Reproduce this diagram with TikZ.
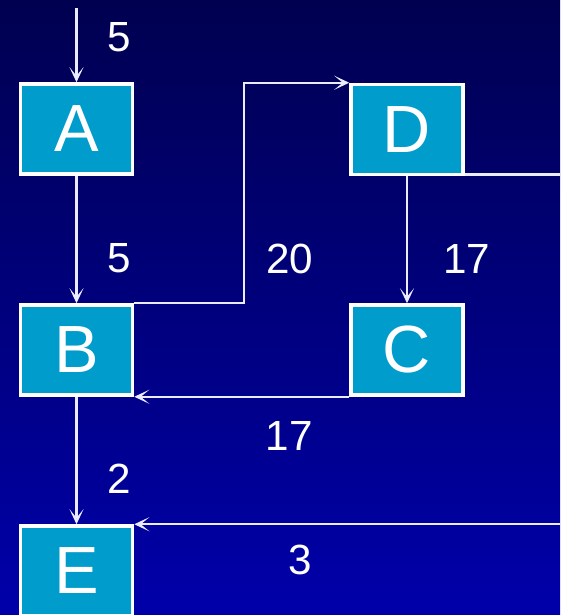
\documentclass[tikz,border=0pt]{standalone}
\usepackage{fontspec}
\setmainfont{Liberation Sans}
\usepackage{xcolor}
\usetikzlibrary{arrows.meta}

\definecolor{bgtop}{RGB}{0,0,80}
\definecolor{bgbot}{RGB}{0,0,170}
\definecolor{boxfill}{RGB}{0,156,204}

\begin{document}
\begin{tikzpicture}[
    vertex/.style={rectangle, draw=white, line width=2pt, fill=boxfill,
                   minimum width=2.24cm, minimum height=1.8cm, inner sep=0pt,
                   text=white, font=\fontsize{38}{40}\selectfont},
    lbl/.style={text=white, inner sep=0pt, font=\fontsize{24}{26}\selectfont},
    arrow/.style={draw=white!92!blue, line width=1.2pt,
                  -{Stealth[length=3mm, width=2.8mm, inset=1.7mm]}},
    plain/.style={draw=white!92!blue, line width=1.2pt}
]
    % background
    \shade[top color=bgtop, bottom color=bgbot] (0,0) rectangle (11.2,-12.3);
    \useasboundingbox (0,0) rectangle (11.2,-12.3);
    \clip (0,0) rectangle (11.2,-12.3);

    \node[vertex] (A) at (1.53, -2.58) {A};
    \node[vertex] (B) at (1.53, -7.00) {B};
    \node[vertex] (D) at (8.14, -2.59) {D};
    \node[vertex] (C) at (8.14, -7.00) {C};
    \node[vertex] (E) at (1.53, -11.42) {E};

    \coordinate (top)   at (1.53, -0.16);
    \coordinate (right) at (11.2, 0);

    \draw[arrow] (top) -- node[lbl, right=0.6cm, pos=0.40] {5} (A);
    \draw[arrow] (A) -- node[lbl, right=0.6cm, pos=0.65] {5} (B);
    \draw[arrow] (B.north east) -- ++(2.2,0)
        |- node[lbl, right=0.42cm, pos=0.10] {20} (D.north west);
    \draw[plain] ([yshift=1pt]D.south east) -- ([yshift=1pt]D.south east -| right);
    \draw[arrow] (D) -- node[lbl, right=0.7cm, pos=0.65] {17} (C);
    \draw[arrow] (C.south west) -- node[lbl, below=0.48cm, pos=0.28] {17} (C.south west -| B.east);
    \draw[arrow] (B) -- node[lbl, right=0.6cm, pos=0.64] {2} (E);
    \draw[arrow] (E.north east -| right) -- node[lbl, below=0.4cm, pos=0.61] {3} (E.north east);
\end{tikzpicture}
\end{document}
